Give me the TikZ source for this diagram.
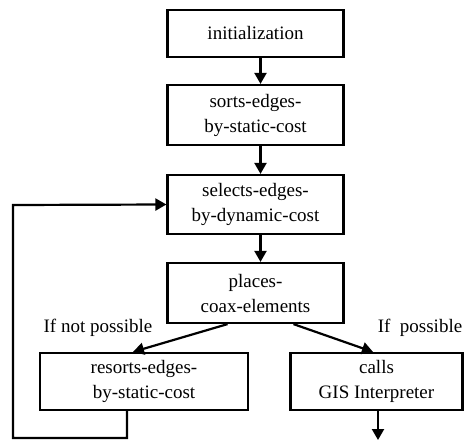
\documentclass[tikz,border=0pt]{standalone}
\usepackage{fontspec}
\setmainfont{Liberation Serif}
\usetikzlibrary{arrows.meta}
\begin{document}
\begin{tikzpicture}[x=1pt,y=-1pt,
  box/.style={draw,line width=2.2pt,rectangle,align=center,inner sep=0pt,
    font=\fontsize{19}{25}\selectfont},
  lbl/.style={font=\fontsize{19}{25}\selectfont,inner sep=0pt},
  arr/.style={line width=2.2pt,-{Triangle[length=11pt,width=12pt]}},
  ln/.style={line width=2.2pt}]
\useasboundingbox (0,0) rectangle (465,441);
\node[box,minimum width=176,minimum height=47] (init) at (255.5,33.5) {initialization};
\node[box,minimum width=176,minimum height=60] (sorts) at (255.5,115) {sorts-edges-\\by-static-cost};
\node[box,minimum width=176,minimum height=59] (sel) at (255.5,204.5) {selects-edges-\\by-dynamic-cost};
\node[box,minimum width=176,minimum height=60] (pl) at (255.5,293) {places-\\coax-elements};
\node[box,minimum width=208,minimum height=57] (res) at (144,381.5) {resorts-edges-\\by-static-cost};
\node[box,minimum width=172,minimum height=57] (gis) at (376.5,381.5) {calls\\GIS Interpreter};
\node[lbl] (l1) at (98,328) {If not possible};
\node[lbl] (l2) at (420,328) {If\ \ possible};
\draw[arr] ([xshift=5]init.south) -- ([xshift=5]sorts.north);
\draw[arr] ([xshift=5]sorts.south) -- ([xshift=5]sel.north);
\draw[arr] ([xshift=5]sel.south) -- ([xshift=5]pl.north);
\draw[arr] ([xshift=-28]pl.south) -- ([xshift=-11]res.north);
\draw[arr] ([xshift=38]pl.south) -- ([xshift=-3.5]gis.north);
\coordinate (c1) at (127,438);
\coordinate (c2) at (13,438);
\coordinate (c3) at (13,205);
\draw[arr] ([xshift=-17]res.south) -- (c1) -- (c2) -- (c3) -- (sel.west);
\coordinate (gend) at (378,440);
\draw[arr] ([xshift=1.5]gis.south) -- (gend);
\end{tikzpicture}
\end{document}
